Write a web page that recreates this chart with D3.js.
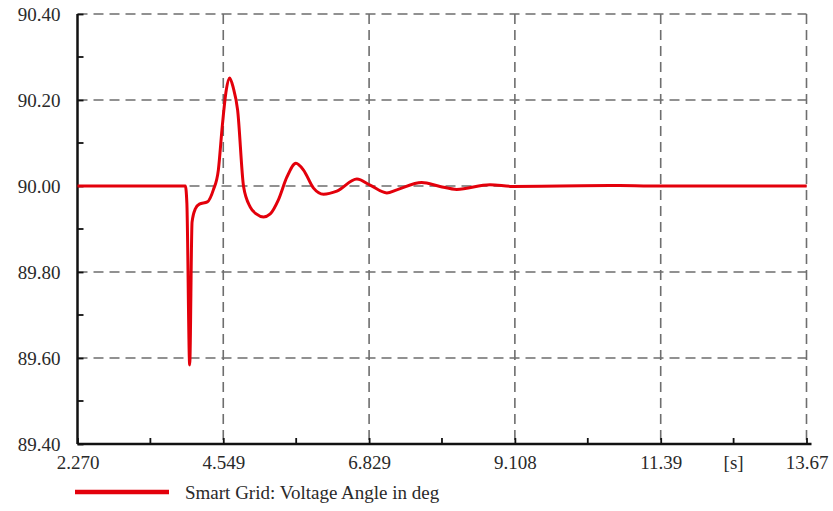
<!DOCTYPE html>
<html>
<head>
<meta charset="utf-8">
<script src="https://cdn.jsdelivr.net/npm/d3@7"></script>
<style>
  body { margin: 0; background: #fff; }
  text { font-family: "Liberation Serif", "Times New Roman", serif; fill: #2a2a2a; }
</style>
</head>
<body>
<div id="chart"></div>
<script>
// time [s] and voltage angle [deg]
var times = [2.270, 3.956, 3.980, 4.024, 4.061, 4.113, 4.175, 4.300, 4.394, 4.472, 4.534, 4.596,
    4.648, 4.706, 4.773, 4.867, 4.971, 5.064, 5.179, 5.284, 5.409, 5.545, 5.685, 5.804,
    5.960, 6.116, 6.325, 6.638, 6.845, 7.106, 7.262, 7.652, 7.938, 8.199, 8.719, 9.078,
    9.812, 10.749, 11.218, 13.67];
var angles = [90.000, 90.000, 89.960, 89.584, 89.916, 89.947, 89.958, 89.963, 89.991, 90.037, 90.140, 90.223,
    90.251, 90.228, 90.177, 89.998, 89.951, 89.935, 89.928, 89.935, 89.967, 90.021, 90.053, 90.037,
    89.995, 89.981, 89.988, 90.016, 90.002, 89.984, 89.991, 90.008, 89.999, 89.992, 90.003, 89.999,
    90.000, 90.001, 90.000, 90.000];

var xTicks = [2.270, 4.549, 6.829, 9.108, 11.388, 13.6675];
var xTickLabels = ['2.270', '4.549', '6.829', '9.108', '11.39', '13.67'];
var yTicks = [89.4, 89.6, 89.8, 90.0, 90.2, 90.4];
var yTickLabels = ['89.40', '89.60', '89.80', '90.00', '90.20', '90.40'];
var seriesName = 'Smart Grid: Voltage Angle in deg';
var unitLabel = '[s]';

var width = 833, height = 511;
var pLeft = 77.5, pRight = 806.5, pTop = 14, pBottom = 444;

var svg = d3.select('#chart').append('svg').attr('width', width).attr('height', height);

var x = d3.scaleLinear().domain([2.270, 13.6675]).range([pLeft, pRight]);
var y = d3.scaleLinear().domain([89.4, 90.4]).range([pBottom, pTop]);

// midpoints for minor ticks
var xMinor = [], yMinor = [];
for (var i = 0; i < xTicks.length - 1; i++) xMinor.push((xTicks[i] + xTicks[i + 1]) / 2);
for (var j = 0; j < yTicks.length - 1; j++) yMinor.push((yTicks[j] + yTicks[j + 1]) / 2);

// dashed grid
var grid = svg.append('g').attr('stroke', '#6e6e6e').attr('stroke-width', 1.6)
    .attr('stroke-dasharray', '10,6').attr('fill', 'none');
grid.selectAll('line.h').data(yTicks.slice(1)).enter().append('line')
    .attr('x1', pLeft).attr('x2', pRight)
    .attr('y1', function(d) { return y(d); }).attr('y2', function(d) { return y(d); });
grid.selectAll('line.v').data(xTicks.slice(1)).enter().append('line')
    .attr('y1', pTop).attr('y2', pBottom)
    .attr('x1', function(d) { return x(d); }).attr('x2', function(d) { return x(d); });

// axes with inward ticks
var xAxis = d3.axisBottom(x).tickValues(xTicks).tickSize(-6).tickFormat(function(d, i) { return xTickLabels[i]; });
var yAxis = d3.axisLeft(y).tickValues(yTicks).tickSize(-6).tickFormat(function(d, i) { return yTickLabels[i]; });

var gx = svg.append('g').attr('transform', 'translate(0,' + pBottom + ')').call(xAxis);
var gy = svg.append('g').attr('transform', 'translate(' + pLeft + ',0)').call(yAxis);

gx.select('.domain').attr('d', 'M' + pLeft + ',0H' + (pRight + 5));
gy.select('.domain').attr('d', 'M0,' + pBottom + 'V' + pTop);
[gx, gy].forEach(function(g) {
    g.select('.domain').attr('stroke', '#111').attr('stroke-width', 2.5);
    g.selectAll('.tick line').attr('stroke', '#111').attr('stroke-width', 1.8);
    g.selectAll('.tick text').style('font-size', '19px').style('font-family', '"Liberation Serif", serif').attr('fill', '#2a2a2a');
});
gx.selectAll('.tick text').attr('dy', '0.71em').attr('y', 12);
gy.selectAll('.tick text').attr('x', -17).attr('dy', '0.35em');

gx.selectAll('line.minor').data(xMinor).enter().append('line')
    .attr('x1', function(d) { return x(d); }).attr('x2', function(d) { return x(d); })
    .attr('y1', 0).attr('y2', -6).attr('stroke', '#111').attr('stroke-width', 1.8);
gy.selectAll('line.minor').data(yMinor).enter().append('line')
    .attr('y1', function(d) { return y(d); }).attr('y2', function(d) { return y(d); })
    .attr('x1', 0).attr('x2', 6).attr('stroke', '#111').attr('stroke-width', 1.8);

svg.append('text').attr('x', x(xMinor[xMinor.length - 1])).attr('y', pBottom + 12).attr('dy', '0.71em')
    .attr('text-anchor', 'middle').style('font-size', '19px').text(unitLabel);

// series
var pts = times.map(function(t, k) { return [t, angles[k]]; });
var line = d3.line().x(function(d) { return x(d[0]); }).y(function(d) { return y(d[1]); })
    .curve(d3.curveMonotoneX);
svg.append('path').datum(pts).attr('d', line).attr('fill', 'none')
    .attr('stroke', '#e3000b').attr('stroke-width', 3).attr('stroke-linejoin', 'round');

// legend
var lg = svg.append('g').attr('transform', 'translate(75,492)');
lg.append('line').attr('x1', 0).attr('x2', 94).attr('y1', 0).attr('y2', 0)
    .attr('stroke', '#e3000b').attr('stroke-width', 4.5);
lg.append('text').attr('x', 110).attr('y', 0).attr('dy', '0.35em').style('font-size', '19px').text(seriesName);
</script>
</body>
</html>
